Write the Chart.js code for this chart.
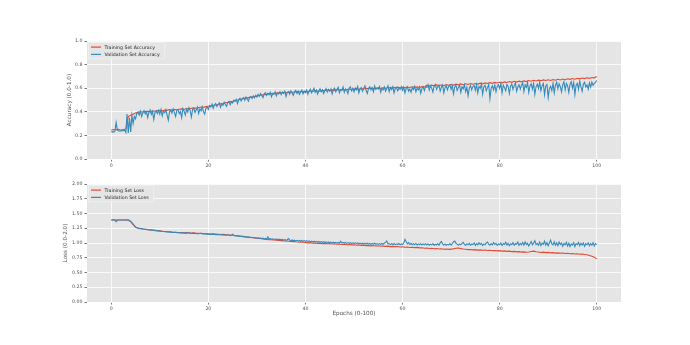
<!DOCTYPE html>
<html><head><meta charset="utf-8">
<script src="https://cdn.jsdelivr.net/npm/chart.js@4.4.1/dist/chart.umd.min.js"></script>
<style>
html,body{margin:0;padding:0;background:#fff;width:690px;height:345px;overflow:hidden}
canvas{position:absolute;left:0}
#c1{top:0}
#c2{top:172px}
</style></head><body>
<canvas id="c1" width="690" height="172"></canvas>
<canvas id="c2" width="690" height="173"></canvas>
<script>
// ---- sampling grids: training every 0.5 epoch, validation every 0.25 epoch ----
const trainEpochs = Array.from({length: 201}, (_, i) => i / 2);
const valEpochs = Array.from({length: 401}, (_, i) => i / 4);
const xTicks = [0, 20, 40, 60, 80, 100];
const accTicks = [0, 0.2, 0.4, 0.6, 0.8, 1.0];
const lossTicks = [0, 0.25, 0.5, 0.75, 1.0, 1.25, 1.5, 1.75, 2.0];

const trainAcc = [
0.245,0.250,0.248,0.252,0.246,0.250,0.255,0.360,0.370,0.380,
0.390,0.395,0.400,0.398,0.402,0.405,0.400,0.408,0.405,0.410,
0.412,0.408,0.415,0.412,0.418,0.414,0.420,0.417,0.422,0.425,
0.420,0.428,0.425,0.430,0.433,0.430,0.437,0.440,0.438,0.444,
0.447,0.450,0.455,0.458,0.462,0.467,0.470,0.476,0.480,0.486,
0.490,0.497,0.500,0.505,0.510,0.514,0.518,0.522,0.526,0.530,
0.534,0.538,0.542,0.545,0.548,0.552,0.554,0.556,0.558,0.560,
0.561,0.563,0.564,0.565,0.567,0.566,0.569,0.570,0.571,0.570,
0.573,0.570,0.578,0.572,0.580,0.576,0.575,0.582,0.578,0.584,
0.580,0.586,0.582,0.589,0.584,0.591,0.586,0.588,0.593,0.589,
0.592,0.595,0.590,0.597,0.593,0.599,0.595,0.601,0.596,0.600,
0.603,0.598,0.604,0.600,0.606,0.602,0.607,0.603,0.609,0.604,
0.608,0.603,0.610,0.606,0.612,0.607,0.611,0.606,0.613,0.610,
0.625,0.618,0.626,0.620,0.628,0.622,0.627,0.621,0.630,0.625,
0.631,0.626,0.634,0.628,0.636,0.630,0.637,0.632,0.639,0.634,
0.640,0.635,0.643,0.637,0.645,0.640,0.647,0.641,0.649,0.644,
0.650,0.645,0.653,0.648,0.656,0.650,0.658,0.652,0.660,0.654,
0.662,0.656,0.665,0.659,0.667,0.661,0.668,0.663,0.670,0.665,
0.672,0.666,0.674,0.668,0.676,0.670,0.678,0.672,0.680,0.675,
0.682,0.676,0.684,0.679,0.686,0.681,0.688,0.683,0.691,0.688,
0.700];

const valAcc = [
0.230,0.232,0.228,0.235,0.310,0.245,0.240,0.236,0.238,0.242,0.240,0.245,0.225,0.380,0.220,0.350,0.230,0.370,0.300,0.360,
0.340,0.385,0.398,0.372,0.405,0.360,0.390,0.410,0.382,0.400,0.352,0.395,0.415,0.378,0.402,0.335,0.392,0.408,0.385,0.412,
0.380,0.420,0.365,0.405,0.392,0.418,0.372,0.330,0.400,0.412,0.388,0.425,0.395,0.360,0.410,0.420,0.385,0.402,0.350,0.428,
0.405,0.372,0.422,0.398,0.435,0.410,0.355,0.420,0.430,0.395,0.418,0.440,0.385,0.425,0.408,0.442,0.400,0.380,0.432,0.438,
0.420,0.452,0.440,0.465,0.430,0.458,0.470,0.445,0.462,0.475,0.438,0.468,0.455,0.480,0.462,0.445,0.478,0.488,0.460,0.485,
0.475,0.498,0.488,0.505,0.470,0.502,0.515,0.492,0.512,0.520,0.498,0.525,0.508,0.490,0.522,0.530,0.512,0.535,0.518,0.540,
0.525,0.548,0.532,0.555,0.540,0.520,0.552,0.562,0.538,0.558,0.545,0.565,0.528,0.555,0.548,0.568,0.535,0.560,0.552,0.570,
0.545,0.568,0.555,0.575,0.530,0.565,0.572,0.548,0.578,0.560,0.540,0.570,0.582,0.555,0.575,0.548,0.568,0.585,0.552,0.575,
0.562,0.585,0.548,0.575,0.592,0.560,0.580,0.600,0.565,0.585,0.550,0.578,0.595,0.570,0.588,0.555,0.582,0.598,0.568,0.590,
0.575,0.595,0.552,0.588,0.600,0.570,0.592,0.608,0.562,0.590,0.580,0.610,0.565,0.595,0.585,0.555,0.600,0.612,0.578,0.598,
0.570,0.602,0.585,0.615,0.560,0.595,0.605,0.575,0.598,0.620,0.580,0.555,0.600,0.612,0.585,0.605,0.570,0.618,0.590,0.602,
0.592,0.615,0.565,0.600,0.585,0.610,0.575,0.598,0.620,0.570,0.605,0.588,0.612,0.560,0.598,0.608,0.578,0.600,0.590,0.612,
0.582,0.608,0.560,0.598,0.612,0.575,0.595,0.565,0.605,0.588,0.615,0.570,0.600,0.585,0.610,0.558,0.598,0.612,0.580,0.615,
0.605,0.630,0.585,0.620,0.600,0.568,0.618,0.632,0.590,0.612,0.625,0.575,0.608,0.628,0.560,0.605,0.620,0.585,0.615,0.628,
0.590,0.622,0.552,0.610,0.625,0.580,0.605,0.628,0.565,0.612,0.595,0.630,0.570,0.608,0.535,0.600,0.622,0.585,0.615,0.625,
0.582,0.630,0.560,0.615,0.598,0.635,0.548,0.612,0.625,0.578,0.605,0.632,0.512,0.598,0.620,0.585,0.628,0.570,0.615,0.630,
0.598,0.640,0.560,0.625,0.605,0.578,0.632,0.615,0.555,0.618,0.635,0.590,0.622,0.645,0.575,0.610,0.630,0.592,0.625,0.645,
0.572,0.628,0.605,0.648,0.565,0.620,0.638,0.592,0.640,0.548,0.612,0.635,0.598,0.650,0.580,0.622,0.640,0.545,0.618,0.632,
0.520,0.598,0.615,0.580,0.642,0.560,0.625,0.650,0.595,0.638,0.612,0.570,0.628,0.655,0.585,0.640,0.620,0.565,0.635,0.655,
0.600,0.648,0.545,0.625,0.640,0.590,0.660,0.612,0.575,0.635,0.650,0.610,0.628,0.592,0.645,0.610,0.652,0.625,0.640,0.650,
0.665];

const trainLoss = [
1.390,1.392,1.390,1.391,1.390,1.389,1.390,1.388,1.360,1.310,
1.270,1.250,1.242,1.236,1.232,1.226,1.222,1.218,1.214,1.210,
1.205,1.200,1.196,1.192,1.190,1.185,1.183,1.180,1.178,1.176,
1.172,1.175,1.170,1.168,1.172,1.166,1.164,1.160,1.162,1.158,
1.155,1.152,1.156,1.150,1.148,1.145,1.147,1.142,1.140,1.136,
1.132,1.128,1.124,1.118,1.112,1.106,1.102,1.096,1.092,1.086,
1.080,1.076,1.072,1.066,1.062,1.058,1.055,1.050,1.048,1.044,
1.040,1.036,1.034,1.030,1.028,1.024,1.020,1.018,1.014,1.012,
1.008,1.002,1.006,0.998,1.001,0.994,0.998,0.990,0.994,0.987,
0.990,0.983,0.986,0.978,0.982,0.975,0.979,0.971,0.975,0.968,
0.971,0.963,0.967,0.960,0.964,0.956,0.960,0.952,0.957,0.950,
0.954,0.946,0.950,0.943,0.947,0.939,0.943,0.936,0.940,0.932,
0.936,0.928,0.932,0.925,0.929,0.921,0.925,0.917,0.920,0.912,
0.915,0.906,0.910,0.902,0.906,0.898,0.902,0.895,0.899,0.892,
0.896,0.900,0.912,0.915,0.905,0.898,0.893,0.888,0.891,0.884,
0.887,0.880,0.884,0.876,0.880,0.873,0.877,0.870,0.874,0.866,
0.870,0.862,0.866,0.858,0.862,0.854,0.858,0.850,0.854,0.846,
0.850,0.843,0.848,0.855,0.862,0.852,0.848,0.840,0.845,0.837,
0.841,0.833,0.837,0.829,0.833,0.826,0.830,0.822,0.826,0.818,
0.822,0.814,0.818,0.810,0.813,0.804,0.800,0.788,0.776,0.760,
0.730];

const valLoss = [
1.390,1.391,1.392,1.390,1.360,1.388,1.390,1.391,1.390,1.389,1.391,1.390,1.389,1.390,1.388,1.385,1.368,1.345,1.320,1.295,
1.268,1.262,1.252,1.251,1.245,1.243,1.238,1.237,1.230,1.232,1.226,1.225,1.220,1.222,1.215,1.216,1.210,1.211,1.205,1.206,
1.200,1.202,1.196,1.198,1.192,1.193,1.188,1.190,1.185,1.186,1.180,1.183,1.178,1.181,1.175,1.178,1.172,1.176,1.170,1.173,
1.168,1.171,1.166,1.170,1.180,1.165,1.162,1.167,1.160,1.164,1.158,1.162,1.156,1.160,1.166,1.155,1.152,1.157,1.150,1.154,
1.148,1.152,1.146,1.150,1.144,1.148,1.142,1.146,1.140,1.145,1.136,1.142,1.132,1.138,1.128,1.136,1.140,1.130,1.126,1.132,
1.150,1.128,1.120,1.125,1.116,1.120,1.110,1.115,1.106,1.112,1.100,1.108,1.096,1.104,1.092,1.100,1.088,1.096,1.085,1.092,
1.082,1.090,1.078,1.086,1.074,1.082,1.070,1.080,1.066,1.105,1.070,1.076,1.064,1.072,1.060,1.068,1.058,1.066,1.054,1.064,
1.052,1.060,1.048,1.058,1.046,1.055,1.075,1.050,1.040,1.052,1.038,1.048,1.035,1.046,1.032,1.044,1.030,1.042,1.028,1.040,
1.026,1.038,1.024,1.036,1.020,1.032,1.018,1.030,1.016,1.028,1.014,1.026,1.012,1.024,1.010,1.022,1.008,1.020,1.006,1.018,
1.004,1.016,1.002,1.014,1.000,1.012,0.998,1.010,1.000,1.030,0.998,1.010,0.995,1.008,0.994,1.006,0.992,1.004,0.990,1.002,
0.990,1.002,0.988,1.000,0.986,0.998,0.984,0.996,0.985,0.998,0.982,0.996,0.980,0.994,0.978,0.992,0.980,0.995,0.978,0.990,
0.976,0.990,0.975,0.992,0.978,0.995,1.010,1.035,0.985,0.990,0.972,0.988,0.975,0.990,0.970,0.986,0.974,0.992,0.970,0.985,
0.975,1.000,1.062,1.020,0.985,1.005,0.975,0.995,0.970,0.988,0.972,0.992,0.968,0.985,0.970,0.990,0.966,0.984,0.970,0.988,
0.968,0.985,0.962,0.982,0.970,0.990,0.960,0.980,0.966,0.988,0.962,1.002,1.025,0.985,0.965,0.982,0.960,0.978,0.968,0.990,
0.965,0.990,1.018,1.032,0.995,0.980,0.962,0.985,0.970,0.995,1.010,0.978,0.960,0.988,0.970,0.995,0.962,0.985,0.975,1.000,
0.960,0.990,0.968,1.005,0.975,0.995,0.958,0.985,0.972,1.002,1.015,0.980,0.962,0.990,0.968,1.008,0.975,0.995,0.960,0.985,
0.972,1.000,0.958,0.990,0.975,1.012,0.965,0.995,0.955,0.988,0.972,1.005,0.962,0.990,0.978,1.015,0.960,0.992,0.970,1.008,
0.965,1.020,0.975,0.995,0.950,0.988,1.025,0.970,0.998,1.040,0.975,0.992,0.962,1.015,0.955,0.998,0.978,1.030,0.965,1.005,
0.952,1.000,1.048,0.985,0.970,1.020,0.960,1.002,0.955,1.018,0.975,0.998,0.945,0.990,0.968,1.012,0.950,0.995,0.940,0.985,
0.965,1.005,0.940,0.990,0.972,1.010,0.952,0.995,0.965,1.000,0.945,0.988,0.970,1.002,0.955,0.992,0.962,1.005,0.950,0.990,
0.972];

// ---- styling ----
const RED = '#E24A33', BLUE = '#348ABD', TXT = '#555555';
Chart.defaults.font.family = "'DejaVu Sans', sans-serif";
Chart.defaults.color = TXT;

const bgPlugin = {
  id: 'axesBg',
  beforeDraw(chart) {
    const {ctx, chartArea: a} = chart;
    ctx.save();
    ctx.fillStyle = '#E5E5E5';
    ctx.fillRect(a.left, a.top, a.right - a.left, a.bottom - a.top);
    ctx.restore();
  }
};

const legendPlugin = {
  id: 'boxLegend',
  afterDatasetsDraw(chart) {
    const {ctx, chartArea: a} = chart;
    const items = chart.data.datasets.slice().sort((p, q) => p.legendIndex - q.legendIndex);
    const fs = 4.7;
    ctx.save();
    ctx.font = fs + "px 'DejaVu Sans'";
    let tw = 0;
    items.forEach(d => { tw = Math.max(tw, ctx.measureText(d.label).width); });
    const x0 = a.left + 1.5, y0 = a.top + 1.5;
    const w = 16 + tw + 5, h = 16.3;
    ctx.fillStyle = 'rgba(229,229,229,0.8)';
    ctx.strokeStyle = 'rgba(245,245,245,0.9)';
    ctx.lineWidth = 0.6;
    ctx.beginPath();
    ctx.rect(x0, y0, w, h);
    ctx.fill(); ctx.stroke();
    items.forEach((d, i) => {
      const y = y0 + 4.6 + i * 7.3;
      ctx.strokeStyle = d.borderColor;
      ctx.lineWidth = 1.2;
      ctx.beginPath();
      ctx.moveTo(x0 + 2.5, y); ctx.lineTo(x0 + 12.5, y);
      ctx.stroke();
      ctx.fillStyle = '#222222';
      ctx.textBaseline = 'middle';
      ctx.textAlign = 'left';
      ctx.fillText(d.label, x0 + 16, y + 0.3);
    });
    ctx.restore();
  }
};

function pts(xs, ys) { return xs.map((x, i) => ({x: x, y: ys[i]})); }

function makeChart(el, cfg) {
  return new Chart(el, {
    type: 'line',
    data: {
      datasets: [
        {label: cfg.valLabel, data: pts(valEpochs, cfg.val), borderColor: BLUE, borderWidth: 1.1, pointRadius: 0, tension: 0, order: 0, legendIndex: 1},
        {label: cfg.trainLabel, data: pts(trainEpochs, cfg.train), borderColor: RED, borderWidth: 1.1, pointRadius: 0, tension: 0, order: 1, legendIndex: 0}
      ]
    },
    options: {
      responsive: false,
      animation: false,
      devicePixelRatio: 1,
      layout: {padding: {left: 0, right: 69, top: cfg.padTop, bottom: 0}},
      plugins: {legend: {display: false}, tooltip: {enabled: false}},
      scales: {
        x: {
          type: 'linear', min: -5, max: 105,
          afterBuildTicks: s => { s.ticks = xTicks.map(v => ({value: v})); },
          afterFit: s => { s.height = cfg.xHeight; },
          grid: {color: '#FFFFFF', lineWidth: 0.8, tickColor: TXT, tickLength: 2.5, drawTicks: true},
          border: {display: false},
          ticks: {font: {size: 4.7}, color: TXT, padding: 1, maxRotation: 0, autoSkip: false},
          title: cfg.xTitle ? {display: true, text: cfg.xTitle, color: TXT, font: {size: 5.7}, padding: {top: 0, bottom: 27.6}} : {display: false}
        },
        y: {
          type: 'linear', min: cfg.yMin, max: cfg.yMax,
          afterBuildTicks: s => { s.ticks = cfg.yTicks.map(v => ({value: v})); },
          afterFit: s => { s.width = 87; },
          grid: {color: '#FFFFFF', lineWidth: 0.8, tickColor: TXT, tickLength: 2.5, drawTicks: true},
          border: {display: false},
          ticks: {font: {size: 4.7}, color: TXT, padding: 2, autoSkip: false, callback: v => v.toFixed(cfg.dec)},
          title: {display: true, text: cfg.yTitle, color: TXT, font: {size: 5.7}, padding: {top: cfg.yTitlePad, bottom: 0}}
        }
      }
    },
    plugins: [bgPlugin, legendPlugin]
  });
}

makeChart(document.getElementById('c1'), {
  train: trainAcc, val: valAcc,
  trainLabel: 'Training Set Accuracy', valLabel: 'Validation Set Accuracy',
  yTitle: 'Accuracy (0.0-1.0)', yTitlePad: 66, yTicks: accTicks, yMin: 0, yMax: 1, dec: 1,
  padTop: 41, xHeight: 13, xTitle: null
});
makeChart(document.getElementById('c2'), {
  train: trainLoss, val: valLoss,
  trainLabel: 'Training Set Loss', valLabel: 'Validation Set Loss',
  yTitle: 'Loss (0.0-2.0)', yTitlePad: 62.6, yTicks: lossTicks, yMin: 0, yMax: 2, dec: 2,
  padTop: 12, xHeight: 43, xTitle: 'Epochs (0-100)'
});
</script>
</body></html>
